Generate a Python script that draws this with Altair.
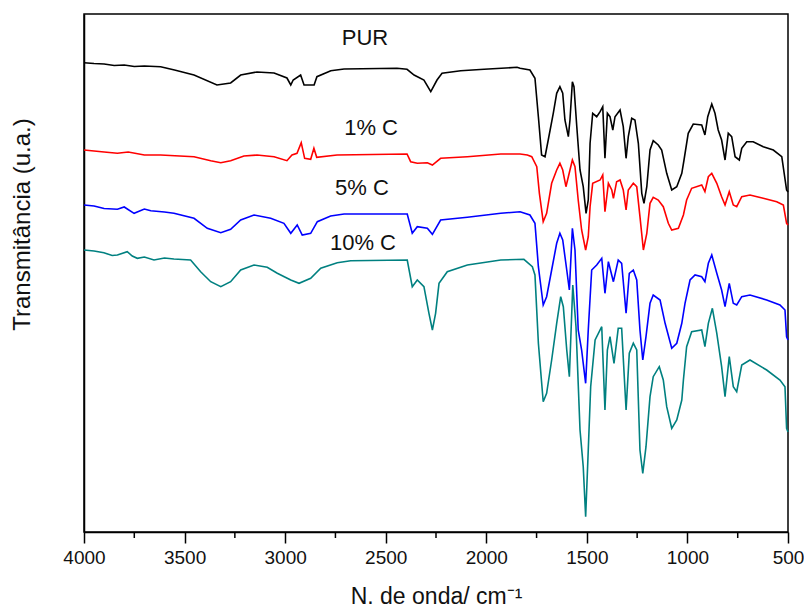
import altair as alt
import pandas as pd

# ---- data (wavenumber / cm-1, transmittance in arbitrary units) ----
wn_pur = [4000, 3950, 3900, 3850, 3800, 3750, 3700, 3619, 3550, 3453, 3339, 3271, 3221, 3140, 3055,
          2991, 2972, 2960, 2923, 2906, 2856, 2842, 2773, 2707, 2444, 2394, 2359, 2310, 2276, 2245,
          2220, 2127, 2011, 1847, 1832, 1783, 1758, 1741, 1725, 1708, 1692, 1667, 1650, 1634, 1620,
          1609, 1592, 1584, 1572, 1564, 1550, 1534, 1518, 1504, 1493, 1484, 1471, 1451, 1434, 1421,
          1410, 1398, 1385, 1371, 1360, 1335, 1319, 1305, 1294, 1277, 1261, 1244, 1227, 1216, 1202,
          1186, 1170, 1145, 1128, 1103, 1078, 1053, 1028, 1017, 996, 971, 929, 913, 899, 879,
          863, 847, 830, 813, 797, 780, 763, 742, 730, 705, 673, 623, 573, 531, 507, 500]
t_pur = [469.3, 468.5, 468, 466.5, 467, 465.5, 466, 465.3, 462, 457, 447, 449, 457, 460, 459,
         454, 447, 452, 457, 447, 447, 455.3, 461.3, 463, 463.7, 462.7, 457, 452, 440.3, 452,
         458.7, 461.3, 462.7, 464.7, 463.7, 462, 453.7, 415.3, 377, 375.3, 392, 418.7, 438.7, 445.3, 438.7,
         412, 395.3, 412, 450.3, 445.3, 405.3, 362, 345.3, 318.7, 332, 388.7, 418.7, 415.3, 420.3, 425.3,
         373.7, 418.7, 415.3, 402, 415.3, 422, 405.3, 373.7, 395.3, 413.7, 412, 388.7, 338.7, 328.7, 345.3,
         382, 391.3, 387, 382, 358.7, 342, 345.3, 358.7, 372, 398.7, 408, 407, 397, 415.3, 428,
         418.7, 402, 392, 372, 398.7, 395.3, 375.3, 372, 383.7, 390.3, 390.3, 385.3, 382, 375.3, 342, 340]

wn_1c = [4000, 3950, 3900, 3834, 3780, 3700, 3619, 3453, 3370, 3320, 3271, 3205, 3140, 3055, 2991,
         2966, 2941, 2920, 2903, 2873, 2857, 2843, 2742, 2394, 2376, 2343, 2293, 2268, 2227, 2094,
         1928, 1832, 1796, 1774, 1749, 1736, 1717, 1700, 1675, 1650, 1634, 1620, 1604, 1592, 1572,
         1559, 1543, 1526, 1506, 1493, 1484, 1471, 1434, 1421, 1410, 1393, 1376, 1368, 1352, 1335,
         1319, 1305, 1294, 1269, 1252, 1236, 1219, 1202, 1186, 1170, 1145, 1120, 1095, 1078, 1045,
         1020, 1004, 979, 929, 913, 896, 879, 854, 830, 813, 792, 772, 755, 730, 689,
         623, 556, 523, 507, 500]
t_1c = [382, 381, 380, 378.7, 380, 377, 377, 375.3, 371.3, 369.3, 371.3, 376, 377, 375.3, 371.3,
        377, 378.7, 389.3, 373.7, 372.7, 383.7, 374.7, 377, 378, 370.3, 368.7, 369.3, 367, 373.7, 375.3,
        378, 378, 377, 375.3, 365.3, 338.7, 310.3, 318.7, 348.7, 362, 368.7, 362, 345.3, 355.3, 372,
        365.3, 332, 302, 282, 295.3, 325.3, 348.7, 352, 357, 320.3, 348.7, 342, 333.7, 350.3, 352,
        342, 322, 342, 348.7, 345.3, 315.3, 282, 298.7, 328.7, 334.7, 332, 325.3, 308.7, 302, 303.7,
        317, 332, 343.7, 347, 340.3, 355.3, 358.7, 348.7, 335.3, 327, 340.3, 327, 325.3, 335.3, 337,
        333.7, 330.3, 327, 308.7, 307]

wn_5c = [4000, 3950, 3900, 3834, 3800, 3751, 3700, 3668, 3600, 3553, 3453, 3387, 3320, 3271, 3221,
         3155, 3072, 3006, 2972, 2940, 2915, 2873, 2840, 2774, 2707, 2393, 2368, 2343, 2293, 2268,
         2227, 2094, 1928, 1832, 1783, 1758, 1741, 1717, 1700, 1675, 1650, 1634, 1620, 1600, 1587,
         1572, 1559, 1543, 1526, 1506, 1493, 1476, 1451, 1426, 1410, 1393, 1368, 1344, 1327, 1305,
         1289, 1269, 1252, 1236, 1222, 1206, 1186, 1170, 1136, 1111, 1078, 1053, 1028, 1012, 987,
         962, 929, 913, 896, 879, 854, 830, 813, 792, 772, 755, 730, 689, 606, 540,
         515, 507, 500]
t_5c = [327, 326, 323.5, 322.7, 325, 318.7, 323, 321.3, 320, 318.7, 313.7, 303.7, 299.3, 302.7, 312,
        317, 313.7, 308.7, 298.7, 307, 297, 298.7, 310.3, 316, 318, 318, 298.7, 305.3, 303.7, 297.7,
        312, 314.7, 318.7, 320.3, 317, 308.7, 265.3, 227, 235.3, 262, 288.7, 298.7, 292, 262, 242,
        303.7, 282, 202, 182, 148.7, 202, 262, 267, 273.7, 238.7, 270.3, 250.3, 272, 268.7, 218.7,
        258.7, 262, 252, 202, 172, 195.3, 228.7, 237, 232, 208.7, 183.7, 188.7, 208.7, 228.7, 252,
        257, 255.3, 250.3, 268.7, 277, 258.7, 242, 225.3, 248.7, 228.7, 227, 235.3, 237, 232, 227,
        222, 195.3, 192]

wn_10c = [4000, 3950, 3901, 3860, 3834, 3785, 3760, 3735, 3700, 3652, 3600, 3553, 3470, 3420, 3370,
          3320, 3271, 3221, 3155, 3089, 3039, 2972, 2931, 2873, 2823, 2741, 2674, 2393, 2368, 2343,
          2310, 2285, 2268, 2252, 2235, 2194, 2094, 1928, 1813, 1771, 1758, 1741, 1717, 1700, 1675,
          1650, 1630, 1617, 1600, 1587, 1570, 1554, 1534, 1518, 1506, 1493, 1481, 1459, 1426, 1410,
          1398, 1385, 1365, 1344, 1327, 1305, 1289, 1269, 1252, 1236, 1222, 1206, 1186, 1170, 1140,
          1120, 1103, 1078, 1053, 1028, 1020, 1004, 979, 929, 913, 896, 876, 854, 830, 813,
          792, 772, 755, 730, 689, 606, 540, 515, 507, 500]
t_10c = [282, 281, 279.3, 276.5, 277, 280.3, 276, 273.7, 275, 272, 274, 273, 272, 260.3, 250.3,
         245.3, 250.3, 262, 267, 264.7, 258.7, 252, 248.7, 253.7, 263.7, 269.3, 271.3, 272, 245.3, 252,
         245.3, 218.7, 202, 218.7, 248.7, 260.3, 267, 272, 272.7, 265.3, 257, 188.7, 130.3, 138.7, 172,
         208.7, 235.3, 225.3, 182, 155.3, 247, 205.3, 102, 65.3, 15.3, 82, 145.3, 192, 205.3, 122,
         182, 195.3, 168.7, 203.7, 203.7, 122, 178.7, 188.7, 182, 82, 58.7, 85.3, 135.3, 155.3, 165.3,
         152, 125.3, 103.7, 112, 132, 152, 185.3, 200.3, 202, 185.3, 208.7, 223.7, 198.7, 165.3, 135.3,
         175.3, 145.3, 140.3, 167, 172, 162, 152, 145.3, 103.7, 100]

series_names = ["PUR", "1% C", "5% C", "10% C"]
series_colors = ["#000000", "#ff0000", "#0000ff", "#008080"]

label_texts = ["PUR", "1% C", "5% C", "10% C"]
label_wn = [2603, 2573, 2618, 2613]
label_t = [494, 404, 344, 289]

major_ticks = [4000, 3500, 3000, 2500, 2000, 1500, 1000, 500]
minor_ticks = [3750, 3250, 2750, 2250, 1750, 1250, 750]

# ---- build tables ----
rows = []
for name, wns, ts in zip(series_names, [wn_pur, wn_1c, wn_5c, wn_10c], [t_pur, t_1c, t_5c, t_10c]):
    for i, (w, t) in enumerate(zip(wns, ts)):
        rows.append({"series": name, "wn": w, "t": t, "idx": i})
df = pd.DataFrame(rows)
labels_df = pd.DataFrame({"label": label_texts, "wn": label_wn, "t": label_t})
minor_df = pd.DataFrame({"wn": minor_ticks})

FONT = "Liberation Sans"
xscale = alt.Scale(domain=[4000, 500], nice=False, zero=False)
yscale = alt.Scale(domain=[0, 518], nice=False, zero=False)

xaxis = alt.Axis(title="N. de onda/ cm⁻¹", values=major_ticks, format="d",
                 tickSize=11, tickWidth=1.5, tickColor="black",
                 labelFontSize=19, labelFont=FONT, labelColor="#111", labelPadding=5,
                 labelFlush=False,
                 titleFontSize=23, titleFont=FONT, titleFontWeight="normal",
                 titleColor="#111", titlePadding=18,
                 domainColor="black", domainWidth=1.5, grid=False)
yaxis = alt.Axis(title="Transmitância (u.a.)", ticks=False, labels=False,
                 titleFontSize=24, titleFont=FONT, titleFontWeight="normal",
                 titleColor="#111", titlePadding=50, titleY=210,
                 domainColor="black", domainWidth=1.5, grid=False)

X = alt.X("wn:Q", scale=xscale, axis=xaxis)
Y = alt.Y("t:Q", scale=yscale, axis=yaxis)

lines = alt.Chart(df).mark_line(strokeWidth=1.6, strokeJoin="miter").encode(
    x=X, y=Y,
    color=alt.Color("series:N", scale=alt.Scale(domain=series_names, range=series_colors), legend=None),
    order="idx:Q",
)

texts = alt.Chart(labels_df).mark_text(fontSize=22, font=FONT, color="#111").encode(
    x=X, y=Y, text="label:N",
)

minor = alt.Chart(minor_df).mark_rule(color="black", strokeWidth=1.5).encode(
    x=X,
    y=alt.value(518),
    y2=alt.value(524),
)

chart = alt.layer(lines, texts, minor).properties(
    width=704, height=518,
    background="white",
    autosize=alt.AutoSizeParams(type="none"),
    padding={"left": 84, "top": 14, "right": 16, "bottom": 80},
).configure_view(stroke="black", strokeWidth=1.5)

chart.save("out.html", embed_options={"renderer": "svg", "actions": False})
